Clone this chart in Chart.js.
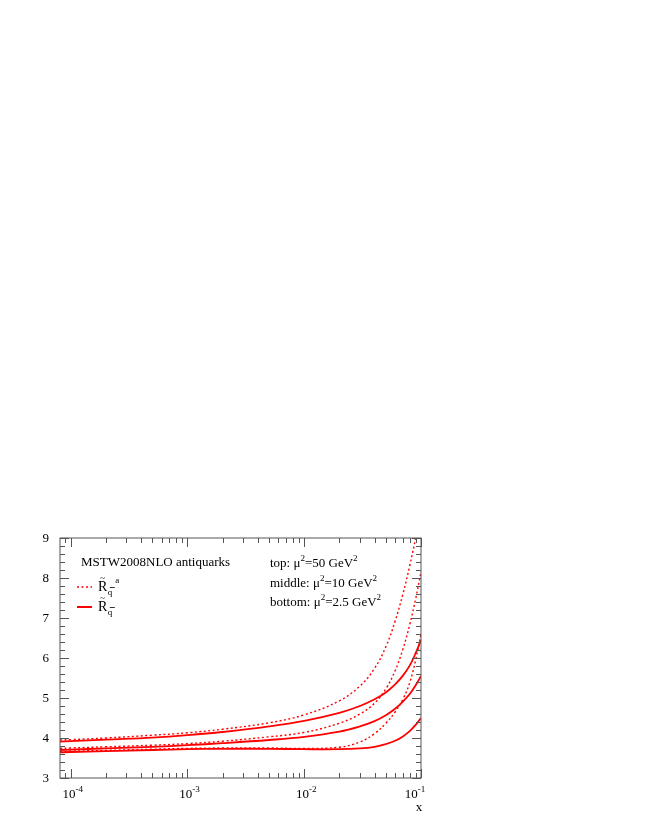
<!DOCTYPE html>
<html><head><meta charset="utf-8">
<script src="https://cdn.jsdelivr.net/npm/chart.js@4/dist/chart.umd.min.js"></script>
<style>html,body{margin:0;padding:0;background:#fff;overflow:hidden}</style>
</head><body>
<canvas id="c" width="649" height="839"></canvas>
<script>
// ---- data ----
const xValues      = [8.1e-5, 1e-4, 2e-4, 5e-4, 1e-3, 2e-3, 5e-3, 1e-2, 2e-2, 3e-2, 4e-2, 5e-2, 6e-2, 7e-2, 8e-2, 9e-2, 0.1];
const topSolid     = [3.91, 3.92, 3.96, 4.01, 4.07, 4.15, 4.29, 4.43, 4.63, 4.80, 4.97, 5.14, 5.34, 5.56, 5.81, 6.12, 6.45];
const topDotted    = [3.95, 3.96, 4.00, 4.07, 4.13, 4.22, 4.38, 4.58, 4.93, 5.30, 5.74, 6.28, 6.92, 7.60, 8.30, 9.00, 9.70];
const middleSolid  = [3.70, 3.71, 3.74, 3.78, 3.82, 3.87, 3.95, 4.03, 4.16, 4.29, 4.42, 4.57, 4.73, 4.91, 5.10, 5.32, 5.55];
const middleDotted = [3.74, 3.75, 3.78, 3.82, 3.86, 3.92, 4.03, 4.14, 4.37, 4.60, 4.87, 5.23, 5.68, 6.22, 6.83, 7.48, 8.15];
const bottomSolid  = [3.64, 3.65, 3.67, 3.70, 3.72, 3.73, 3.73, 3.72, 3.72, 3.74, 3.78, 3.85, 3.93, 4.04, 4.17, 4.33, 4.50];
const bottomDotted = [3.66, 3.67, 3.69, 3.72, 3.74, 3.75, 3.75, 3.74, 3.77, 3.90, 4.11, 4.37, 4.65, 4.97, 5.38, 5.95, 6.60];

const yTickValues   = [3, 4, 5, 6, 7, 8, 9];
const xTickExponents = [-4, -3, -2, -1];
const xMin = 8.1e-5, xMax = 0.1, yMin = 3, yMax = 9;

const legendTitle = 'MSTW2008NLO antiquarks';
const scaleLabels = [
  ['top: μ', '50'],
  ['middle: μ', '10'],
  ['bottom: μ', '2.5']
];

const RED = '#ff0000';
const FONT = '"Liberation Serif", "Times New Roman", serif';

function pts(arr) { return xValues.map((x, i) => ({x: x, y: arr[i]})); }
function solid(arr) {
  return {data: pts(arr), borderColor: RED, borderWidth: 1.8, pointRadius: 0,
          tension: 0.4, fill: false};
}
function dotted(arr) {
  return {data: pts(arr), borderColor: RED, borderWidth: 1.4, borderDash: [2, 2.5], pointRadius: 0,
          tension: 0.4, fill: false};
}

function rich(ctx, x, y, parts, size) {
  let cx = x;
  for (const p of parts) {
    const fs = p.sup || p.sub ? size * 0.7 : size;
    ctx.font = fs + 'px ' + FONT;
    const dy = p.sup ? -size * 0.45 : (p.sub ? size * 0.35 : 0);
    ctx.fillText(p.t, cx, y + dy);
    cx += ctx.measureText(p.t).width;
  }
  return cx;
}
function richWidth(ctx, parts, size) {
  let w = 0;
  for (const p of parts) {
    const fs = p.sup || p.sub ? size * 0.7 : size;
    ctx.font = fs + 'px ' + FONT;
    w += ctx.measureText(p.t).width;
  }
  return w;
}

const decor = {
  id: 'decor',
  afterDraw(chart) {
    const {ctx, chartArea: a, scales: {x, y}} = chart;
    ctx.save();
    ctx.strokeStyle = '#555';
    ctx.lineWidth = 1;
    ctx.setLineDash([]);
    const L = Math.round(a.left), R = Math.round(a.right), T = Math.round(a.top), B = Math.round(a.bottom);
    ctx.strokeRect(L, T, R - L, B - T);
    function seg(x1, y1, x2, y2) { ctx.beginPath(); ctx.moveTo(x1, y1); ctx.lineTo(x2, y2); ctx.stroke(); }
    // y ticks (major each unit, 5 minor divisions)
    for (let k = 0; k <= (yMax - yMin) * 5; k++) {
      const v = yMin + k * 0.2;
      const py = Math.round(y.getPixelForValue(v)) + 0.5;
      const len = (k % 5 === 0) ? 9 : 5;
      seg(L, py, L + len, py);
      seg(R, py, R - len, py);
    }
    // x ticks (log)
    for (let e = -5; e <= -1; e++) {
      for (let m = 1; m <= 9; m++) {
        const v = m * Math.pow(10, e);
        if (v < xMin * 0.999 || v > xMax * 1.001) continue;
        const px = Math.round(x.getPixelForValue(v)) + 0.5;
        const len = (m === 1) ? 9 : 5;
        seg(px, B, px, B - len);
        seg(px, T, px, T + len);
      }
    }
    ctx.fillStyle = '#000';
    // y labels
    ctx.textAlign = 'right';
    ctx.textBaseline = 'middle';
    ctx.font = '13px ' + FONT;
    for (const v of yTickValues) {
      ctx.fillText(String(v), L - 11, y.getPixelForValue(v) + 1);
    }
    // x labels 10^e
    ctx.textAlign = 'left';
    ctx.textBaseline = 'alphabetic';
    for (const e of xTickExponents) {
      const parts = [{t: '10'}, {t: '-' + Math.abs(e), sup: true}];
      const w = richWidth(ctx, parts, 13);
      const px = x.getPixelForValue(Math.pow(10, e));
      const shift = (e === -1) ? -6 : 2;
      rich(ctx, px - w / 2 + shift, B + 20, parts, 13);
    }
    // axis title
    ctx.font = '13px ' + FONT;
    ctx.textAlign = 'center';
    ctx.fillText('x', R - 2, B + 33);
    ctx.textAlign = 'left';
    // legend title
    ctx.font = '13px ' + FONT;
    ctx.fillText(legendTitle, 81, 566);
    // legend entries
    ctx.strokeStyle = RED;
    ctx.lineWidth = 1.4; ctx.setLineDash([2, 2.5]);
    seg(77, 587, 92, 587);
    ctx.setLineDash([]); ctx.lineWidth = 2;
    seg(77, 607, 92, 607);
    function rq(x0, base, withA) {
      ctx.font = '14px ' + FONT;
      ctx.fillText('R', x0, base);
      const wR = ctx.measureText('R').width;
      ctx.font = '9px ' + FONT;
      ctx.textAlign = 'center';
      ctx.fillText('~', x0 + wR / 2, base - 10);
      ctx.textAlign = 'left';
      ctx.font = '9px ' + FONT;
      const qx = x0 + wR + 0.5;
      ctx.fillText('q', qx, base + 4);
      const wq = ctx.measureText('q').width;
      ctx.strokeStyle = '#000'; ctx.lineWidth = 0.8;
      seg(qx + 2, base - 3.5, qx + wq + 2.5, base - 3.5);
      if (withA) {
        ctx.font = '9px ' + FONT;
        ctx.fillText('a', qx + wq + 3, base - 8);
      }
    }
    rq(98, 591, true);
    rq(98, 611, false);
    // scale annotation
    const baselines = [566.5, 586.5, 606];
    scaleLabels.forEach((s, i) => {
      rich(ctx, 270, baselines[i], [{t: s[0]}, {t: '2', sup: true}, {t: '=' + s[1] + ' GeV'}, {t: '2', sup: true}], 13);
    });
    ctx.restore();
  }
};

new Chart(document.getElementById('c'), {
  type: 'line',
  data: {
    datasets: [
      dotted(topDotted), solid(topSolid),
      dotted(middleDotted), solid(middleSolid),
      dotted(bottomDotted), solid(bottomSolid)
    ]
  },
  options: {
    responsive: false,
    animation: false,
    devicePixelRatio: 1,
    layout: {padding: {left: 60, top: 538, right: 228, bottom: 61}},
    plugins: {legend: {display: false}, tooltip: {enabled: false}},
    scales: {
      x: {type: 'logarithmic', min: xMin, max: xMax, display: false},
      y: {type: 'linear', min: yMin, max: yMax, display: false}
    }
  },
  plugins: [decor]
});
</script>
</body></html>
